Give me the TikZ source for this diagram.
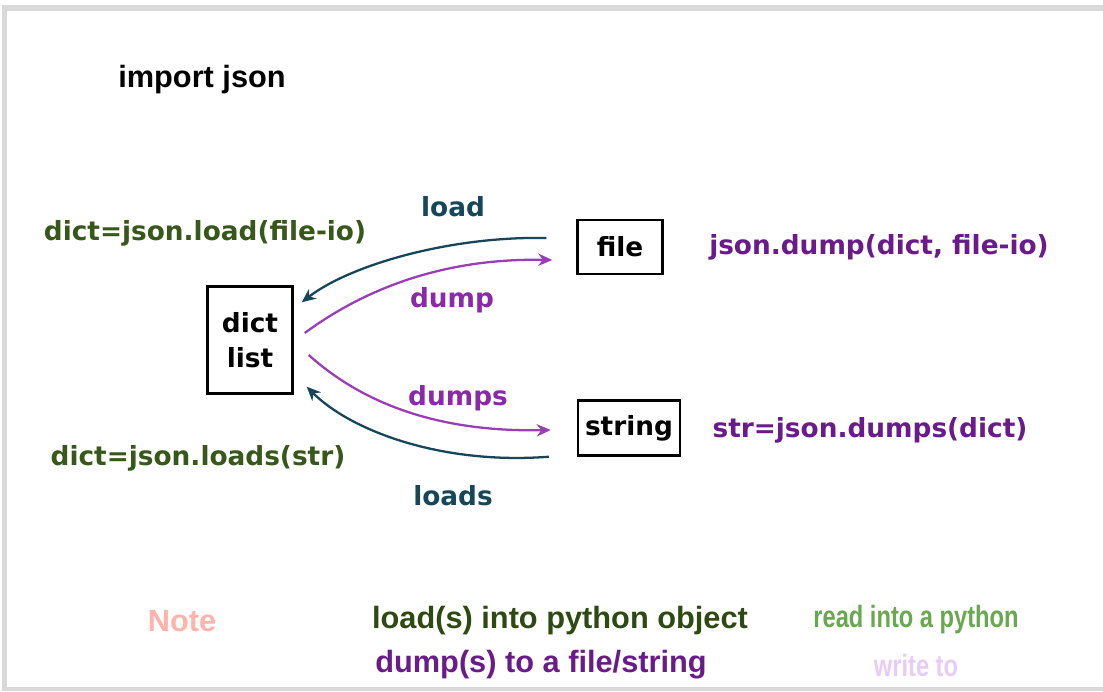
\documentclass[tikz,border=0pt]{standalone}
\usepackage{fontspec}
\setmainfont{DejaVu Sans}
\newfontfamily\arialfont{Liberation Sans}
\newfontfamily\narrowfont[FakeStretch=0.77]{Liberation Sans}
\usetikzlibrary{arrows.meta}
\definecolor{framegray}{HTML}{D9D9D9}
\definecolor{loadteal}{HTML}{164657}
\definecolor{loadgreen}{HTML}{38571A}
\definecolor{dumppurple}{HTML}{6A1B8A}
\definecolor{arrowpurple}{HTML}{9B3DB6}
\definecolor{labelpurple}{HTML}{8A2AA8}
\definecolor{notepink}{HTML}{FFB3AB}
\definecolor{notegreen}{HTML}{2E4A12}
\definecolor{readgreen}{HTML}{6AA84F}
\definecolor{writelilac}{HTML}{E8CCF7}
\tikzset{
  box/.style={draw=black, line width=1.4pt, inner sep=0pt, align=center},
  loadarr/.style={draw=loadteal, line width=1.3pt, -{Stealth[length=8pt,width=7pt]}},
  dumparr/.style={draw=arrowpurple, line width=1.3pt, -{Stealth[length=8pt,width=7pt]}},
  bigtxt/.style={font=\arialfont\fontsize{17.5}{20}\selectfont\bfseries},
  narrowtxt/.style={font=\narrowfont\fontsize{17.5}{20}\selectfont\bfseries}
}
\begin{document}
\begin{tikzpicture}
[x=0.02cm, y=-0.02cm, font=\fontsize{15}{21}\selectfont\bfseries]

\useasboundingbox (0,0) rectangle (1103,691);
\fill[white] (0,0) rectangle (1103,691);
\fill[framegray] (2,5) rectangle (1103,11);
\fill[framegray] (2,5) rectangle (7,691);
\fill[framegray] (2,687) rectangle (1103,691);
%________________________________________________%
\node[bigtxt] (import) at (202,80) {import json};
%________________________________________________%
\node[box, minimum width=1.7cm, minimum height=2.14cm] (dict) at (250,340) {dict\\[-1pt]list};
\node[box, minimum width=1.7cm, minimum height=1.08cm] (file) at (620,247) {file};
\node[box, minimum width=2.04cm, minimum height=1.1cm] (string) at (629,428) {string};
%________________________________________________%
\node[text=loadgreen] (loadcall) at (205,233) {dict=json.load(file-io)};
\node[text=dumppurple] (dumpcall) at (879,247) {json.dump(dict, file-io)};
\node[text=dumppurple] (dumpscall) at (870,430) {str=json.dumps(dict)};
\node[text=loadgreen] (loadscall) at (198,458) {dict=json.loads(str)};
%________________________________________________%
\node[text=loadteal] (loadlbl) at (453,207) {load};
\node[text=labelpurple] (dumplbl) at (452,300) {dump};
\node[text=labelpurple] (dumpslbl) at (458,398) {dumps};
\node[text=loadteal] (loadslbl) at (453,496) {loads};
%________________________________________________%
\draw[loadarr] ([shift={(-30,-9)}]file.west) .. controls (450,236) and (350,265) .. ([shift={(8,17)}]dict.north east);
\draw[dumparr] ([shift={(11,-7)}]dict.east) .. controls (370,285) and (450,258) .. ([shift={(-24,13)}]file.west);
\draw[dumparr] ([shift={(15,15)}]dict.east) .. controls (370,410) and (450,432) .. ([shift={(-26,2)}]string.west);
\draw[loadarr] ([shift={(-28,0)}]string.south west) .. controls (440,465) and (350,430) .. ([shift={(13,-8)}]dict.south east);
%________________________________________________%
\node[bigtxt, text=notepink] (note) at (182,621) {Note};
\node[bigtxt, text=notegreen] (noteload) at (560,621) {load(s) into python object};
\node[bigtxt, text=dumppurple] (notedump) at (541,665) {dump(s) to a file/string};
\node[narrowtxt, text=readgreen] (noteread) at (916,620) {read into a python};
\node[narrowtxt, text=writelilac] (notewrite) at (916,665) {write to};
%________________________________________________%
\end{tikzpicture}
\end{document}
